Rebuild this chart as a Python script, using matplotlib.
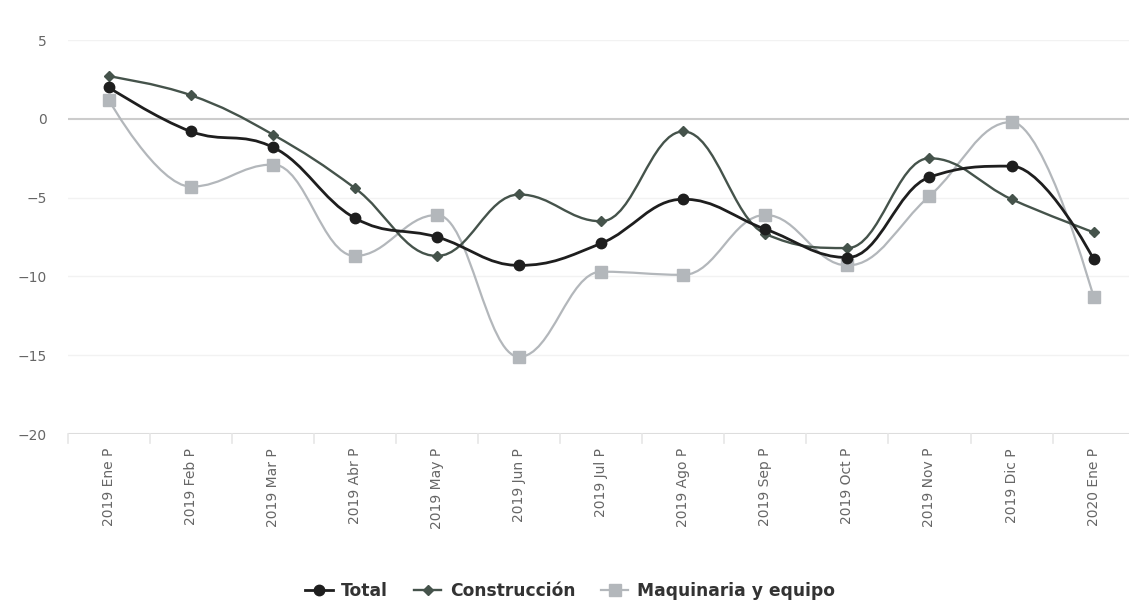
import numpy as np
import matplotlib
matplotlib.use("Agg")
import matplotlib.pyplot as plt
from matplotlib.path import Path
from matplotlib.patches import PathPatch
from matplotlib.lines import Line2D

months = ['2019 Ene P', '2019 Feb P', '2019 Mar P', '2019 Abr P', '2019 May P',
          '2019 Jun P', '2019 Jul P', '2019 Ago P', '2019 Sep P', '2019 Oct P',
          '2019 Nov P', '2019 Dic P', '2020 Ene P']
total = [2.0, -0.8, -1.8, -6.3, -7.5, -9.3, -7.9, -5.1, -7.0, -8.8, -3.7, -3.0, -8.9]
construccion = [2.7, 1.5, -1.0, -4.4, -8.7, -4.8, -6.5, -0.8, -7.3, -8.2, -2.5, -5.1, -7.2]
maquinaria = [1.2, -4.3, -2.9, -8.7, -6.1, -15.1, -9.7, -9.9, -6.1, -9.3, -4.9, -0.2, -11.3]


def spline_path(xs, ys, smoothing=1.5):
    # highcharts-style spline through the points
    n = len(xs)
    denom = smoothing + 1
    verts = [(xs[0], ys[0])]
    codes = [Path.MOVETO]
    right_prev = (xs[0], ys[0])
    for i in range(1, n):
        px, py = xs[i], ys[i]
        if i < n - 1:
            lx, ly = xs[i - 1], ys[i - 1]
            nx, ny = xs[i + 1], ys[i + 1]
            lcx = (smoothing * px + lx) / denom
            lcy = (smoothing * py + ly) / denom
            rcx = (smoothing * px + nx) / denom
            rcy = (smoothing * py + ny) / denom
            corr = ((rcy - lcy) * (rcx - px)) / (rcx - lcx) + py - rcy
            lcy += corr
            rcy += corr
            if lcy > ly and lcy > py:
                lcy = max(ly, py)
                rcy = 2 * py - lcy
            elif lcy < ly and lcy < py:
                lcy = min(ly, py)
                rcy = 2 * py - lcy
            if rcy > ny and rcy > py:
                rcy = max(ny, py)
                lcy = 2 * py - rcy
            elif rcy < ny and rcy < py:
                rcy = min(ny, py)
                lcy = 2 * py - rcy
            left = (lcx, lcy)
            right = (rcx, rcy)
        else:
            left = (px, py)
            right = (px, py)
        verts += [right_prev, left, (px, py)]
        codes += [Path.CURVE4] * 3
        right_prev = right
    return Path(verts, codes)


plt.rcParams['font.family'] = 'DejaVu Sans'
fig = plt.figure(figsize=(11.29, 6.07), dpi=100)
ax = fig.add_axes([0.060, 0.285, 0.945, 0.649])

x = np.arange(len(months))
series = [
    ('Total', total, '#1e1e1e', 'o', 7.5, 2.0),
    ('Construcción', construccion, '#45534b', 'D', 5, 1.7),
    ('Maquinaria y equipo', maquinaria, '#b3b7bb', 's', 8, 1.6),
]
handles = []
for name, vals, col, mk, ms, lw in reversed(series):
    ax.add_patch(PathPatch(spline_path(x, vals), facecolor='none', edgecolor=col, lw=lw, zorder=3))
    ax.plot(x, vals, linestyle='none', marker=mk, color=col, markersize=ms, zorder=4)
for name, vals, col, mk, ms, lw in series:
    handles.append(Line2D([], [], color=col, marker=mk, markersize=ms, lw=lw, label=name))

ax.set_xlim(-0.5, 12.5)
ax.set_ylim(-20, 5)
ax.set_yticks([5, 0, -5, -10, -15, -20])
ax.set_xticks(x)
ax.set_xticklabels(months, rotation=90, fontsize=10, color='#666666')
ax.tick_params(axis='y', length=0, labelsize=10, labelcolor='#666666', pad=15)
ax.tick_params(axis='x', length=0, pad=10)
for s in ax.spines.values():
    s.set_visible(False)
for v in [5, -5, -10, -15]:
    ax.axhline(v, color='#f2f2f2', lw=1, zorder=1)
ax.axhline(0, color='#cccccc', lw=1.5, zorder=1)
ax.axhline(-20, color='#dddddd', lw=1.5, zorder=1)
for b in np.arange(-0.5, 12.5, 1.0):
    ax.plot([b, b], [-20, -20.6], color='#e6e6e6', lw=1.2, clip_on=False, zorder=1)

fig.legend(handles=handles, loc='center', bbox_to_anchor=(0.505, 0.027), ncol=3, frameon=False,
           prop={'weight': 'bold', 'size': 12.3}, handlelength=1.6, columnspacing=1.5,
           handletextpad=0.5, labelcolor='#333333')

fig.savefig('out.png', dpi=100)
